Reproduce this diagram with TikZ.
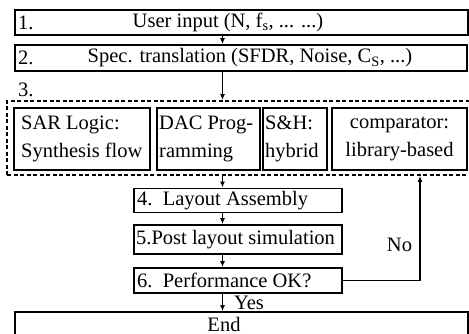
\documentclass[tikz,border=0pt]{standalone}
\usepackage{fontspec}
\setmainfont{Liberation Serif}
\usetikzlibrary{arrows.meta,positioning}

\begin{document}
\begin{tikzpicture}[x=1pt,y=-1pt,>={Latex[length=6pt,width=5pt]},
  box/.style={draw,line width=1.9pt,inner sep=0pt},
  grp/.style={draw,line width=1.9pt,dash pattern=on 4pt off 2.5pt,inner sep=0pt},
  txt/.style={inner sep=0pt,font=\fontsize{20.5}{28}\selectfont}]
\useasboundingbox (0,0) rectangle (469,334);
\coordinate (spine) at (222.5,0);
\coordinate (fb) at (420,0);
% steps 1 and 2
\node[box,minimum width=453pt,minimum height=25pt](b1) at (241.5,22.5){};
\node[txt,anchor=west](n1) at (18,22.5){1.};
\node[txt](t1) at (228,22.5){User input (N, f\textsubscript{s}, ... ...)};
\node[box,minimum width=452pt,minimum height=26pt](b2) at (241,58){};
\node[txt,anchor=west](n2) at (18,58){2.};
\node[txt](t2) at (250,58){Spec. translation (SFDR, Noise, C\textsubscript{S}, ...)};
% step 3
\node[txt,anchor=west](n3) at (18,90){3.};
\node[grp,minimum width=464pt,minimum height=74pt](g3) at (239,138){};
\node[box,minimum width=136pt,minimum height=62pt](sar) at (82,139){};
\node[txt,align=left,anchor=west](sart) at (21,139){SAR Logic:\\Synthesis flow};
\node[box,minimum width=103pt,minimum height=62pt](dac) at (208.5,139){};
\node[txt,align=left,anchor=west](dact) at (159,139){DAC Prog-\\ramming};
\node[box,minimum width=64pt,minimum height=62pt](sh) at (295,139){};
\node[txt,align=left,anchor=west](sht) at (265,139){S\&H:\\hybrid};
\node[box,minimum width=135pt,minimum height=62pt](cmp) at (399.5,139){};
\node[txt,align=center](cmpt) at (399.5,139){comparator:\\library-based};
% steps 4 to 6
\node[box,minimum width=208pt,minimum height=24pt](b4) at (238,200.5){};
\node[txt,anchor=west](t4) at (137,200.5){4.\ \ Layout Assembly};
\node[box,minimum width=208pt,minimum height=29pt](b5) at (238,239.5){};
\node[txt,anchor=west](t5) at (136,239.5){5.Post layout simulation};
\node[box,minimum width=208pt,minimum height=25pt](b6) at (238,280.5){};
\node[txt,anchor=west](t6) at (137,280.5){6.\ \ Performance OK?};
\node[box,minimum width=453pt,minimum height=26pt](end) at (241.5,325){};
\node[txt](te) at (224,324){End};
\node[txt](yes) at (249,302.5){Yes};
\node[txt](no) at (399.5,245){No};
\path[->,line width=1.5pt]
(spine |- b1.south) edge (spine |- b2.north)
(spine |- b2.south) edge (spine |- g3.north)
(spine |- g3.south) edge (spine |- b4.north)
(spine |- b4.south) edge (spine |- b5.north)
(spine |- b5.south) edge (spine |- b6.north)
(spine |- b6.south) edge (spine |- end.north);
\draw[->,line width=1.5pt] (b6.east) -| (fb |- g3.south);
\end{tikzpicture}
\end{document}
